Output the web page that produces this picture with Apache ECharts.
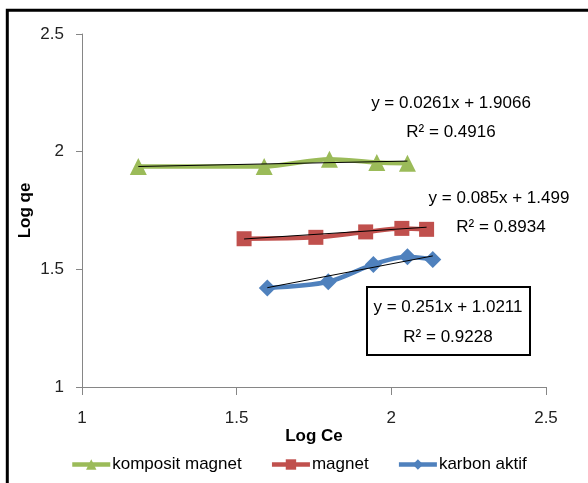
<!DOCTYPE html>
<html>
<head>
<meta charset="utf-8">
<script src="https://cdn.jsdelivr.net/npm/echarts@6/dist/echarts.min.js"></script>
<style>
  html, body { margin: 0; padding: 0; background: #fff; }
  #chart { width: 588px; height: 483px; }
</style>
</head>
<body>
<div id="chart"></div>
<script>
// values (Log Ce, Log qe)
const kompositMagnet = [[1.182, 1.937], [1.589, 1.937], [1.800, 1.968], [1.953, 1.954], [2.052, 1.951]];
const magnet = [[1.524, 1.630], [1.756, 1.636], [1.917, 1.659], [2.034, 1.674], [2.114, 1.670]];
const karbonAktif = [[1.599, 1.421], [1.796, 1.447], [1.942, 1.521], [2.052, 1.553], [2.134, 1.542]];

// trendline end points (black lines)
const trendKomposit = [[1.182, 1.937], [2.052, 1.960]];
const trendMagnet = [[1.524, 1.629], [2.114, 1.679]];
const trendKarbon = [[1.599, 1.422], [2.134, 1.557]];

const seriesNames = ['komposit magnet', 'magnet', 'karbon aktif'];
const seriesColors = ['#9BBB59', '#C0504D', '#4F81BD'];
const equations = [
  ['y = 0.0261x + 1.9066', 'R² = 0.4916'],
  ['y = 0.085x + 1.499', 'R² = 0.8934'],
  ['y = 0.251x + 1.0211', 'R² = 0.9228']
];

const font = "'Liberation Sans'";

const chart = echarts.init(document.getElementById('chart'), null, {renderer: 'canvas'});

function dataSeries(name, data, color, symbol, size) {
  return {
    name: name,
    type: 'line',
    data: data,
    smooth: 0.3,
    symbol: symbol,
    symbolSize: size,
    itemStyle: {color: color},
    lineStyle: {color: color, width: 4.5},
    emphasis: {disabled: true},
    z: 3
  };
}

function trendSeries(data) {
  return {
    type: 'line',
    data: data,
    symbol: 'none',
    silent: true,
    lineStyle: {color: '#000', width: 1},
    emphasis: {disabled: true},
    z: 4
  };
}

const eqText = (x, y, text) => ({
  type: 'text',
  x: x, y: y,
  style: {text: text, font: '17px ' + font, fill: '#000', textAlign: 'center', textVerticalAlign: 'middle'},
  z: 10
});

const option = {
  animation: false,
  color: seriesColors,
  grid: {left: 82, right: 42, top: 34, bottom: 96},
  xAxis: {
    type: 'value',
    min: 1, max: 2.5, interval: 0.5,
    name: 'Log Ce',
    nameLocation: 'middle',
    nameGap: 41,
    nameMoveOverlap: false,
    nameTextStyle: {fontFamily: font, fontSize: 17, fontWeight: 'bold', color: '#000'},
    splitLine: {show: false},
    axisLine: {onZero: false, lineStyle: {color: '#868686', width: 1}},
    axisTick: {show: true, length: 8, lineStyle: {color: '#868686'}},
    axisLabel: {fontFamily: font, fontSize: 17, color: '#222', margin: 23}
  },
  yAxis: {
    type: 'value',
    min: 1, max: 2.5, interval: 0.5,
    name: 'Log qe',
    nameLocation: 'middle',
    nameGap: 48,
    nameMoveOverlap: false,
    nameTextStyle: {fontFamily: font, fontSize: 17, fontWeight: 'bold', color: '#000'},
    splitLine: {show: false},
    axisLine: {show: true, onZero: false, lineStyle: {color: '#868686', width: 1}},
    axisTick: {show: true, length: 6, lineStyle: {color: '#868686'}},
    axisLabel: {fontFamily: font, fontSize: 17, color: '#222', margin: 18}
  },
  legend: {
    data: seriesNames,
    left: 65,
    top: 451,
    itemWidth: 38,
    itemHeight: 13,
    itemGap: 28,
    lineStyle: {width: 4.5},
    textStyle: {fontFamily: font, fontSize: 17, color: '#000', padding: [0, 0, 0, -3]},
    selectedMode: false
  },
  series: [
    dataSeries(seriesNames[0], kompositMagnet, seriesColors[0], 'triangle', 17),
    dataSeries(seriesNames[1], magnet, seriesColors[1], 'rect', 15),
    dataSeries(seriesNames[2], karbonAktif, seriesColors[2], 'diamond', 17),
    trendSeries(trendKomposit),
    trendSeries(trendMagnet),
    trendSeries(trendKarbon)
  ],
  graphic: [
    {
      type: 'rect',
      shape: {x: 7.3, y: 10.3, width: 620, height: 520},
      style: {fill: 'none', stroke: '#000', lineWidth: 3},
      silent: true,
      z: 10
    },
    {
      type: 'rect',
      shape: {x: 367, y: 287, width: 163, height: 68},
      style: {fill: '#fff', stroke: '#000', lineWidth: 2},
      silent: true,
      z: 9
    },
    eqText(451, 103, equations[0][0]),
    eqText(451, 132, equations[0][1]),
    eqText(499, 198, equations[1][0]),
    eqText(501, 227, equations[1][1]),
    eqText(448, 307, equations[2][0]),
    eqText(448, 337, equations[2][1])
  ]
};

chart.setOption(option);
</script>
</body>
</html>
